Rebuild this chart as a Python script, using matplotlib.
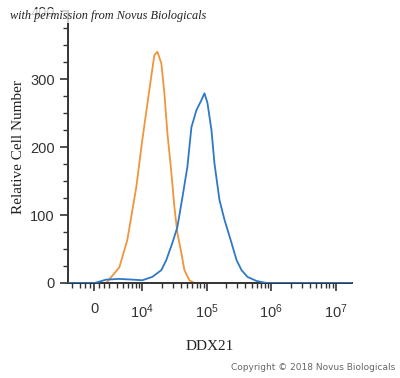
import matplotlib
matplotlib.use("Agg")
import matplotlib.pyplot as plt
import numpy as np

plt.rcParams["mathtext.fontset"] = "custom"
plt.rcParams["mathtext.rm"] = "Liberation Sans"
plt.rcParams["mathtext.it"] = "Liberation Sans:italic"
plt.rcParams["mathtext.bf"] = "Liberation Sans:bold"

# Data: fluorescence intensity (DDX21 channel) vs relative cell number
isotype_x = [-4500, 0, 2516, 4397, 5850, 8075, 10000, 12870, 15380, 17140, 19780,
             22040, 24510, 28310, 31490, 35010, 40450, 45060, 53790, 64380, 1.8e7]
isotype_y = [0, 0, 0, 23, 63, 141, 210, 284, 335, 340, 323,
             279, 221, 162, 112, 74, 44, 19, 4, 0, 0]

ddx21_x = [-4500, 0, 1050, 2500, 4397, 7000, 10000, 14330, 19780, 23650, 29320, 35010,
           41990, 50150, 57900, 69160, 82820, 92330, 102600, 118500, 131900,
           157800, 188900, 242700, 289800, 346800, 429000, 593000, 849000, 1.8e7]
ddx21_y = [0, 0, 2, 5, 6, 5, 4, 9, 19, 34, 59, 82,
           126, 171, 229, 254, 269, 279, 265, 225, 176,
           122, 93, 59, 34, 19, 9, 3, 0, 0]

y_ticks = [0, 100, 200, 300, 400]
x_ticks = [0, 1e4, 1e5, 1e6, 1e7]
x_tick_labels = ["0", r"$10^4$", r"$10^5$", r"$10^6$", r"$10^7$"]

fig = plt.figure(figsize=(4.0, 3.78), dpi=100)
ax = fig.add_axes([68/400, 1-283/378, (352-68)/400, (283-11)/378])

ax.plot(isotype_x, isotype_y, color="#F0953A", lw=1.3, zorder=2)
ax.plot(ddx21_x, ddx21_y, color="#2E78C8", lw=1.3, zorder=3)

ax.set_xscale("symlog", linthresh=3000, linscale=0.2)
ax.set_xlim(-4600, 1.8e7)
ax.set_ylim(0, 400)

ax.set_xticks(x_ticks)
ax.set_xticklabels(x_tick_labels)
minor = [-4000, -3000, -2000, -1000, 1000, 2000]
for dec in [1e3, 1e4, 1e5, 1e6]:
    for m in range(2, 10):
        v = m * dec
        if v >= 3000:
            minor.append(v)
ax.set_xticks(minor, minor=True)
ax.set_yticks(y_ticks)
ax.set_yticks(np.arange(0, 401, 25), minor=True)

for s in ["top", "right"]:
    ax.spines[s].set_visible(False)
for s in ["left", "bottom"]:
    ax.spines[s].set_color("#333333")
    ax.spines[s].set_linewidth(1.4)

ax.tick_params(axis="both", which="major", direction="out", length=6, width=1.2,
               color="#333333", labelsize=10.5, labelcolor="#333333")
ax.tick_params(axis="both", which="minor", direction="out", length=3.5, width=1.0,
               color="#333333")
ax.tick_params(axis="x", which="major", pad=8)
for lab in ax.get_xticklabels() + ax.get_yticklabels():
    lab.set_family("Liberation Sans")

ax.set_xlabel("DDX21", family="Liberation Serif", fontsize=11, color="#222222", labelpad=14)
ax.set_ylabel("Relative Cell Number", family="Liberation Serif", fontsize=11,
              color="#222222", labelpad=4)

fig.text(10/400, 1-16/378, "with permission from Novus Biologicals",
         family="Liberation Serif", style="italic", fontsize=8.8, color="#222222",
         va="center", ha="left", zorder=10,
         bbox=dict(boxstyle="square,pad=0.1", fc="white", ec="none", alpha=0.75))
fig.text(395/400, 1-368/378, "Copyright \u00a9 2018 Novus Biologicals",
         family="DejaVu Sans", fontsize=6.5, color="#666666", va="center", ha="right")

fig.savefig("out.png", dpi=100)
